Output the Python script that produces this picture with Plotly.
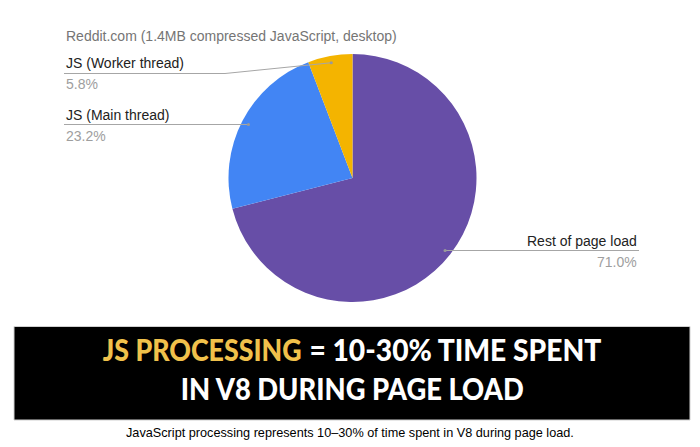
import math
import plotly.graph_objects as go

W, H = 700, 447

# ---- data ----
labels = ["Rest of page load", "JS (Main thread)", "JS (Worker thread)"]
values = [71.0, 23.2, 5.8]
colors = ["#674ea7", "#4285f4", "#f4b400"]
chart_title = "Reddit.com (1.4MB compressed JavaScript, desktop)"
banner_hl = "JS PROCESSING"
banner_rest1 = "= 10-30% TIME SPENT"
banner_line2 = "IN V8 DURING PAGE LOAD"
caption = "JavaScript processing represents 10\u201330% of time spent in V8 during page load."

def px(x):
    return x / W

def py(y):
    return 1 - y / H

# pie domain in pixels
dx0, dx1, dy0, dy1 = 228, 477, 54, 302
cx, cy = (dx0 + dx1) / 2, (dy0 + dy1) / 2
R = min(dx1 - dx0, dy1 - dy0) / 2

fig = go.Figure(go.Pie(
    labels=labels, values=values, sort=False, direction="clockwise", rotation=0,
    marker=dict(colors=colors, line=dict(width=0)),
    textinfo="none", hoverinfo="label+percent", showlegend=False,
    domain=dict(x=[px(dx0), px(dx1)], y=[py(dy1), py(dy0)]),
))

# anchor dots computed from the data
total = sum(values)
cum = 0
dots = []
for v in values:
    mid = (cum + v / 2) / total * 2 * math.pi
    cum += v
    rho = 0.945 * R
    dots.append((cx + rho * math.sin(mid), cy - rho * math.cos(mid)))

LINE = "#a6a6a6"
GREY = "#9e9e9e"
FONT = "Liberation Sans, Arial, sans-serif"

shapes = []
annotations = []

# label layout: (index, text x, anchor, text y center, line y, elbow x)
label_layout = [
    (2, 64, "left", 63, 73.5, 225),
    (1, 64, "left", 115, 124.5, None),
    (0, 639, "right", 241, 250.5, None),
]
for i, tx, anch, ty, ly, elbow in label_layout:
    dxp, dyp = dots[i]
    annotations.append(dict(x=px(tx), y=py(ty), xref="paper", yref="paper", text=labels[i],
                            showarrow=False, xanchor=anch, yanchor="middle",
                            font=dict(size=14, color="#222222", family=FONT)))
    annotations.append(dict(x=px(tx), y=py(ty + 21), xref="paper", yref="paper",
                            text=f"{values[i]:.1f}%", showarrow=False, xanchor=anch,
                            yanchor="middle", font=dict(size=14, color=GREY, family=FONT)))
    if anch == "left":
        if elbow is not None:
            path = f"M {px(tx)} {py(ly)} L {px(elbow)} {py(ly)} L {px(dxp)} {py(dyp)}"
        else:
            path = f"M {px(tx)} {py(ly)} L {px(dxp)} {py(ly)}"
    else:
        path = f"M {px(dxp)} {py(ly)} L {px(tx)} {py(ly)}"
    shapes.append(dict(type="path", xref="paper", yref="paper", path=path,
                       line=dict(color=LINE, width=1)))
    dy_dot = dyp if elbow is not None else ly
    shapes.append(dict(type="circle", xref="paper", yref="paper",
                       x0=px(dxp - 1.6), x1=px(dxp + 1.6), y0=py(dy_dot + 1.6), y1=py(dy_dot - 1.6),
                       fillcolor="#999999", line=dict(width=0)))

annotations.append(dict(x=px(64), y=py(36), xref="paper", yref="paper", text=chart_title,
                        showarrow=False, xanchor="left", yanchor="middle",
                        font=dict(size=14, color="#757575", family=FONT)))

# banner
shapes.append(dict(type="rect", xref="paper", yref="paper", x0=px(14), x1=px(690),
                   y0=py(420), y1=py(326.5), fillcolor="#000000",
                   line=dict(color="#d0d0d0", width=1), layer="below"))
BFONT = "Lato, DejaVu Sans, sans-serif"
# (text, colour, centre x, centre y, target width)
banner_parts = [
    (banner_hl, "#f0c14b", 202.2, 349, 199),
    (banner_rest1, "#ffffff", 455.9, 349, 292),
    (banner_line2, "#ffffff", 352.0, 388, 343),
]
squeeze_calls = []
for txt, col, bx, by, blen in banner_parts:
    squeeze_calls.append("squeeze(%d, %g);" % (len(annotations), blen))
    annotations.append(dict(x=px(bx), y=py(by), xref="paper", yref="paper", text=txt,
                            showarrow=False, xanchor="center", yanchor="middle",
                            font=dict(size=31, color=col, family=BFONT, weight=900)))

annotations.append(dict(x=px(350), y=py(433), xref="paper", yref="paper", text=caption,
                        showarrow=False, xanchor="center", yanchor="middle",
                        font=dict(size=12.7, color="#000000", family=FONT)))

fig.update_layout(width=W, height=H, margin=dict(l=0, r=0, t=0, b=0),
                  paper_bgcolor="white", plot_bgcolor="white",
                  shapes=shapes, annotations=annotations)

post = """
document.body.style.margin = '0px';
var gd = document.getElementById('{plot_id}');
function squeeze(idx, len) {
  var g = gd.querySelector('g.annotation[data-index="' + idx + '"]');
  if (!g) return;
  var t = g.querySelector('text.annotation-text');
  if (!t) return;
  var w = t.getComputedTextLength();
  if (!(w > 0)) return;
  var s = len / w;
  var bb = t.getBBox();
  var cx = bb.x + bb.width / 2;
  var old = t.getAttribute('transform') || '';
  t.setAttribute('transform', old + ' translate(' + cx + ',0) scale(' + s + ',1) translate(' + (-cx) + ',0)');
  var r = g.querySelector('rect.bg');
  if (r) {
    var w0 = parseFloat(r.getAttribute('width')) || 0;
    var x0 = parseFloat(r.getAttribute('x')) || 0;
    if (w0 > len) {
      r.setAttribute('x', x0 + (w0 - len) / 2);
      r.setAttribute('width', len);
    }
  }
}
""" + "\n".join(squeeze_calls)

fig.write_html("out.html", post_script=post, config={"displayModeBar": False})
